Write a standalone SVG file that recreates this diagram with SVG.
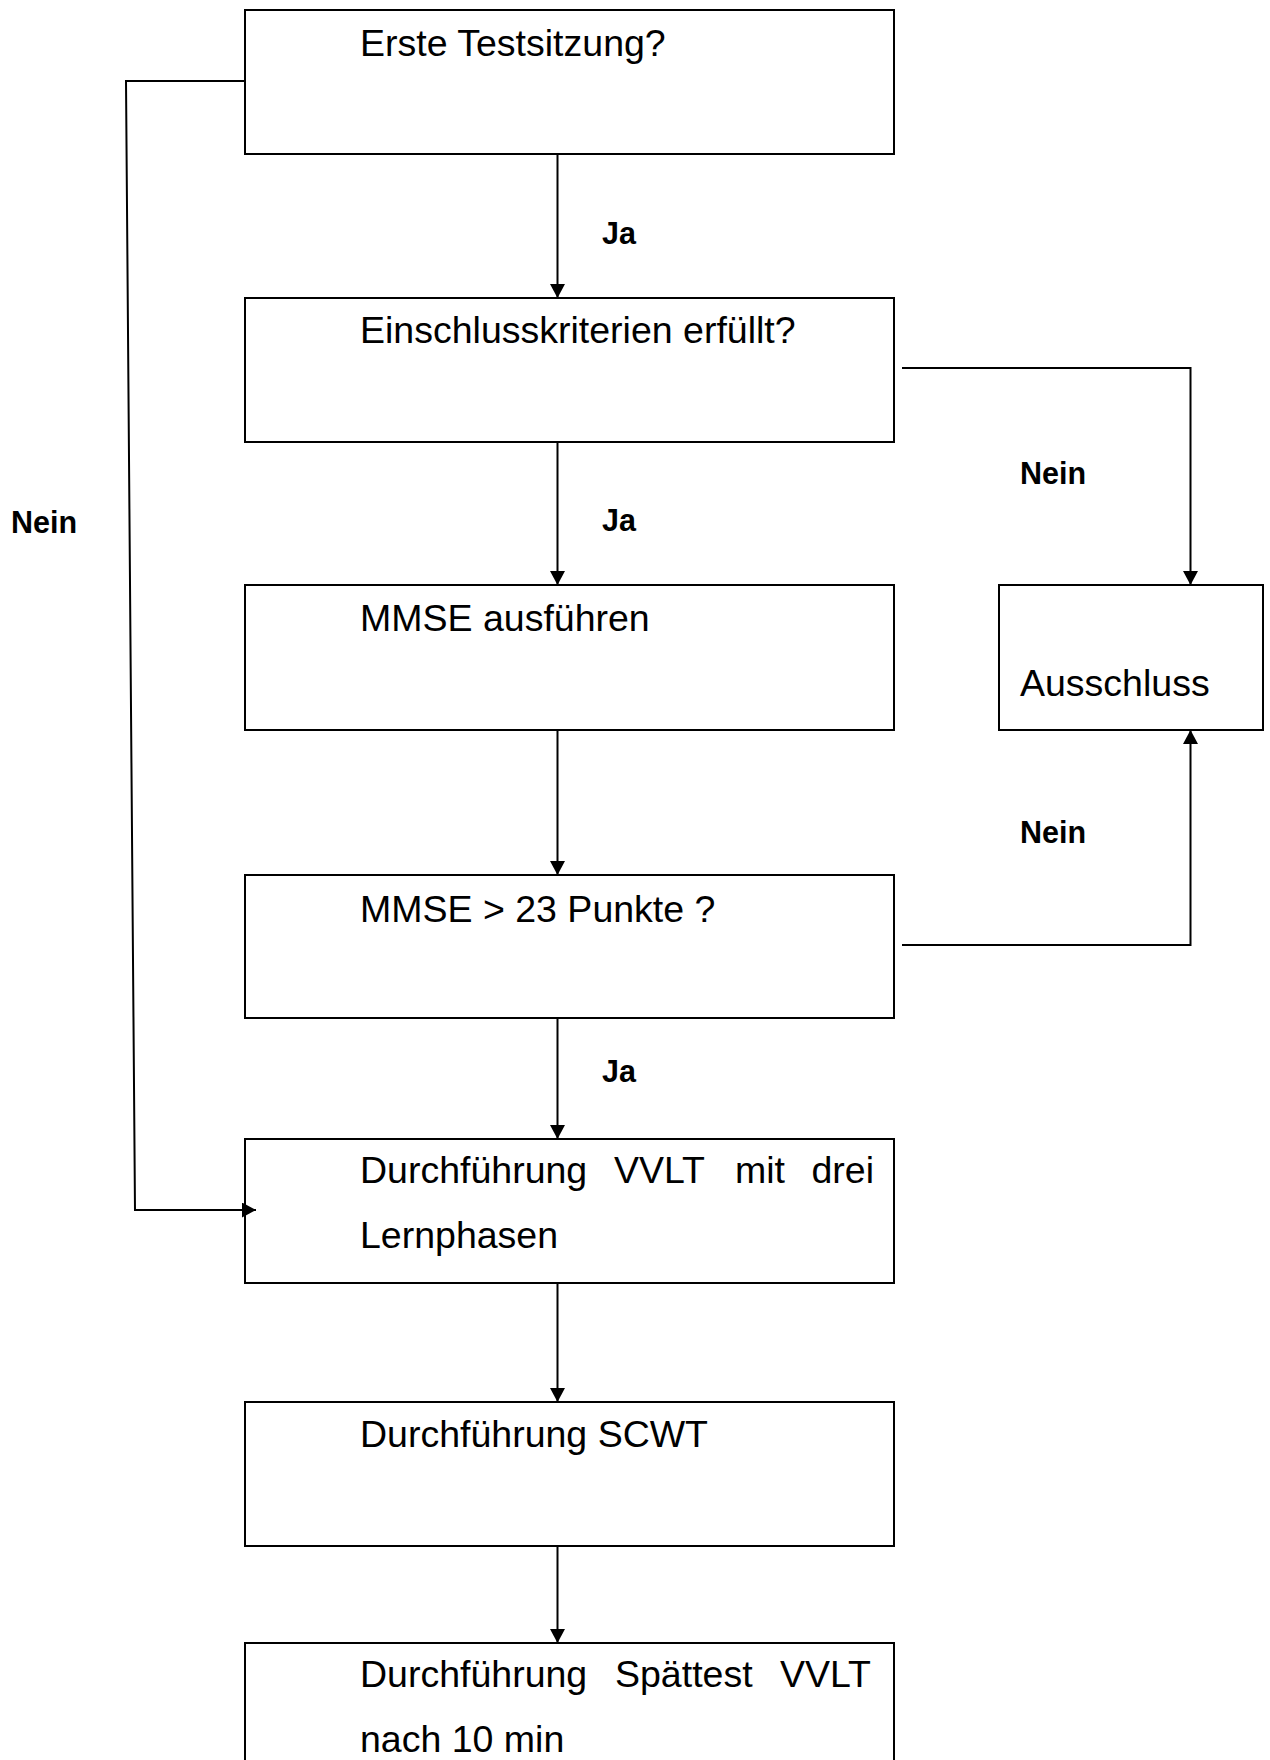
<svg xmlns="http://www.w3.org/2000/svg" width="1270" height="1760" viewBox="0 0 1270 1760">
<style>
.box{fill:#fff;stroke:#000;stroke-width:2}
.t{font-family:"Liberation Sans",Arial,sans-serif;font-size:37.5px;fill:#000}
.lbl{font-family:"Liberation Sans",Arial,sans-serif;font-size:30.5px;font-weight:bold;fill:#000}
.c{fill:none;stroke:#000;stroke-width:2}
</style>
<defs>
<marker id="arr" markerUnits="userSpaceOnUse" markerWidth="16" markerHeight="16" refX="14" refY="7.5" orient="auto">
<path d="M0,0 L14,7.5 L0,15 z" fill="#000"/>
</marker>
</defs>
<rect width="1270" height="1760" fill="#fff"/>
<g id="n1"><rect class="box" x="245" y="10" width="649" height="144"/><text class="t" x="360" y="56">Erste Testsitzung?</text></g>
<g id="n2"><rect class="box" x="245" y="298" width="649" height="144"/><text class="t" x="360" y="343">Einschlusskriterien erfüllt?</text></g>
<g id="n3"><rect class="box" x="245" y="585" width="649" height="145"/><text class="t" x="360" y="631">MMSE ausführen</text></g>
<g id="n4"><rect class="box" x="245" y="875" width="649" height="143"/><text class="t" x="360" y="922">MMSE &gt; 23 Punkte ?</text></g>
<g id="n5"><rect class="box" x="245" y="1139" width="649" height="144"/><text class="t" y="1183"><tspan x="360">Durchführung</tspan><tspan x="614">VVLT</tspan><tspan x="735">mit</tspan><tspan x="811.5">drei</tspan></text><text class="t" x="360" y="1248">Lernphasen</text></g>
<g id="n6"><rect class="box" x="245" y="1402" width="649" height="144"/><text class="t" x="360" y="1447">Durchführung SCWT</text></g>
<g id="n7"><rect class="box" x="245" y="1643" width="649" height="140"/><text class="t" y="1687"><tspan x="360">Durchführung</tspan><tspan x="615">Spättest</tspan><tspan x="780">VVLT</tspan></text><text class="t" x="360" y="1752">nach 10 min</text></g>
<g id="n8"><rect class="box" x="999" y="585" width="264" height="145"/><text class="t" x="1020" y="696">Ausschluss</text></g>
<g id="connectors">
<line class="c" x1="557.5" y1="154" x2="557.5" y2="298" marker-end="url(#arr)"/>
<line class="c" x1="557.5" y1="442" x2="557.5" y2="585" marker-end="url(#arr)"/>
<line class="c" x1="557.5" y1="730" x2="557.5" y2="875" marker-end="url(#arr)"/>
<line class="c" x1="557.5" y1="1018" x2="557.5" y2="1139" marker-end="url(#arr)"/>
<line class="c" x1="557.5" y1="1283" x2="557.5" y2="1402" marker-end="url(#arr)"/>
<line class="c" x1="557.5" y1="1546" x2="557.5" y2="1643" marker-end="url(#arr)"/>
<polyline class="c" points="245,81 126,81 135,1210 256,1210" marker-end="url(#arr)"/>
<polyline class="c" points="902,368 1190.5,368 1190.5,585" marker-end="url(#arr)"/>
<polyline class="c" points="902,945 1190.5,945 1190.5,730" marker-end="url(#arr)"/>
<text class="lbl" x="602" y="244">Ja</text>
<text class="lbl" x="602" y="531">Ja</text>
<text class="lbl" x="602" y="1082">Ja</text>
<text class="lbl" x="11" y="533">Nein</text>
<text class="lbl" x="1020" y="484">Nein</text>
<text class="lbl" x="1020" y="843">Nein</text>
</g>
</svg>
